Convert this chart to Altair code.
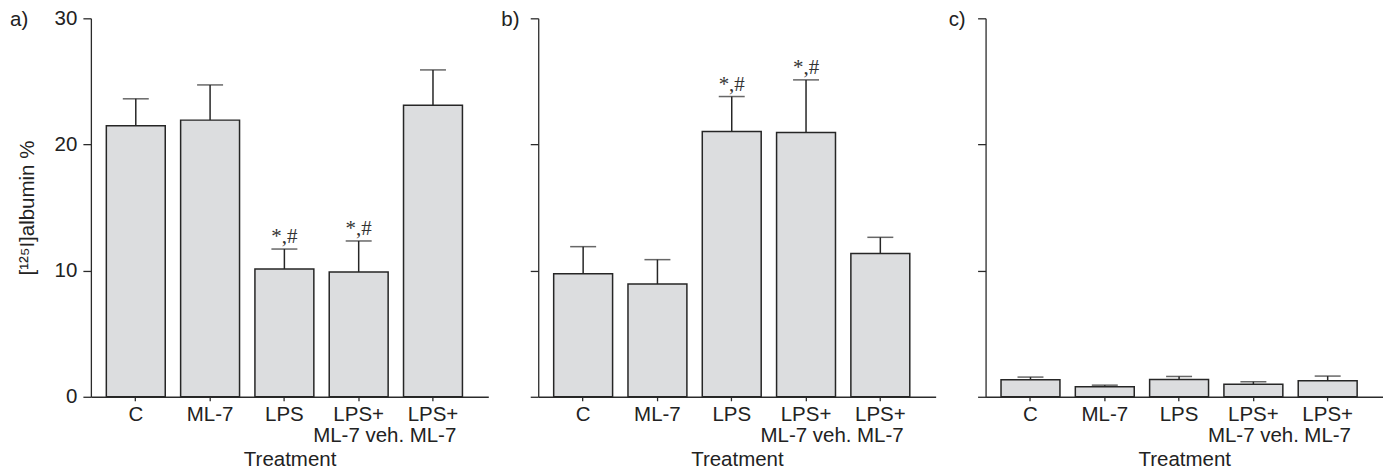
import altair as alt
import pandas as pd

categories = ["C", "ML-7", "LPS", "LPS+ ML-7 veh.", "LPS+ ML-7"]

a_mean = [21.48, 21.93, 10.13, 9.89, 23.11]
a_sem = [2.14, 2.79, 1.58, 2.46, 2.80]
a_note = ["", "", "*,#", "*,#", ""]

b_mean = [9.76, 8.94, 21.03, 20.95, 11.35]
b_sem = [2.14, 1.93, 2.77, 4.17, 1.29]
b_note = ["", "", "*,#", "*,#", ""]

c_mean = [1.35, 0.79, 1.37, 1.00, 1.27]
c_sem = [0.21, 0.13, 0.24, 0.19, 0.37]
c_note = ["", "", "", "", ""]

panel_letters = ["a)", "b)", "c)"]
y_ticks = [0, 10, 20, 30]

FONT = "Liberation Sans"
FS = 20.5
AX = "#2b2b2b"
W, H = 398, 379


def panel(means, sems, notes, letter, letter_x, first):
    df = pd.DataFrame({"treatment": categories, "mean": means, "sem": sems, "note": notes})
    base = alt.Chart(df).transform_calculate(top="datum.mean + datum.sem")
    x = alt.X(
        "treatment:N",
        sort=categories,
        scale=alt.Scale(paddingInner=0.207, paddingOuter=0.278, align=0.374),
        axis=alt.Axis(
            title="Treatment",
            labelAngle=0,
            labelExpr="indexof(datum.label, 'LPS+ ') == 0 ? ['LPS+', substring(datum.label, 5)] : datum.label",
            labelFont=FONT, labelFontSize=FS, labelColor="#222222",
            labelLineHeight=21, labelPadding=4,
            tickSize=4, tickColor=AX, tickWidth=1.3,
            domainColor=AX, domainWidth=1.3,
            titleFont=FONT, titleFontSize=FS, titleFontWeight="normal",
            titleColor="#222222", titlePadding=3,
        ),
    )
    yaxis = alt.Axis(
        values=y_ticks,
        labels=first,
        title="[¹²⁵I]albumin %" if first else None,
        labelFont=FONT, labelFontSize=FS, labelColor="#222222", labelPadding=6,
        tickSize=8, tickColor=AX, tickWidth=1.3,
        domainColor=AX, domainWidth=1.3,
        titleFont=FONT, titleFontSize=FS, titleFontWeight="normal",
        titleColor="#222222", titlePadding=17,
        grid=False,
    )
    y = alt.Y("mean:Q", scale=alt.Scale(domain=[0, 30], nice=False), axis=yaxis)

    bars = base.mark_bar(fill="#dcdddf", stroke="#262626", strokeWidth=1.5).encode(x=x, y=y)
    err = base.mark_rule(color="#262626", strokeWidth=1.5).encode(
        x=alt.X("treatment:N", sort=categories), y="mean:Q", y2="top:Q"
    )
    cap = base.mark_tick(color="#262626", size=26, thickness=1.5, orient="horizontal").encode(
        x=alt.X("treatment:N", sort=categories), y="top:Q"
    )
    note = base.mark_text(
        font="Liberation Serif", fontSize=21, color="#333333", align="center",
        baseline="alphabetic", dy=-6,
    ).encode(x=alt.X("treatment:N", sort=categories), y="top:Q", text="note:N")
    lab = alt.Chart(pd.DataFrame({"letter": [letter]})).mark_text(
        font=FONT, fontSize=FS, color="#222222", align="left", baseline="alphabetic"
    ).encode(x=alt.value(letter_x), y=alt.value(8), text="letter:N")
    return alt.layer(bars, err, cap, note, lab).properties(width=W, height=H)


pa = panel(a_mean, a_sem, a_note, panel_letters[0], -81, True)
pb = panel(b_mean, b_sem, b_note, panel_letters[1], -37, False)
pc = panel(c_mean, c_sem, c_note, panel_letters[2], -37, False)

chart = (
    alt.hconcat(pa, pb, pc, spacing=13)
    .properties(padding={"left": 2, "top": 0, "right": 0, "bottom": 0})
    .configure(font=FONT)
    .configure_view(stroke=None)
)

chart.save("out.html", embed_options={"renderer": "svg", "actions": False})
